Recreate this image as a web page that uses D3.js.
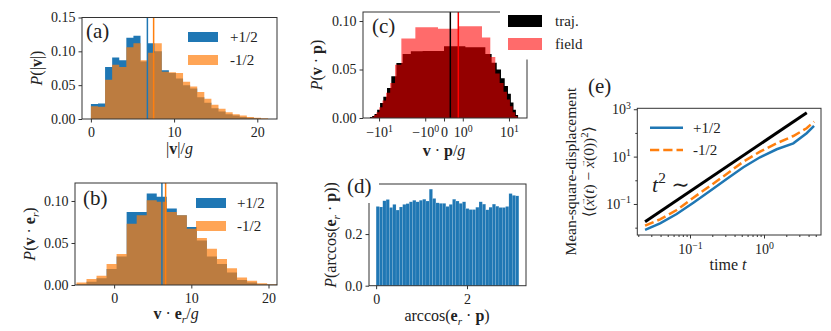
<!DOCTYPE html>
<html><head><meta charset="utf-8">
<script src="https://cdn.jsdelivr.net/npm/d3@7"></script>
<style>body{margin:0;background:#fff}svg text{font-family:"Liberation Serif","DejaVu Serif",serif;fill:#222}</style>
</head><body>
<svg id="c" width="831" height="331"></svg>
<script>
// ---------------- DATA ----------------
// (a) |v|/g histograms (density), 25 bins starting at 0
const aBinStart = 0, aBinWidth = 0.852;
const aPlus  = [0.022,0.023,0.077,0.091,0.087,0.120,0.123,0.085,0.112,0.100,0.072,0.068,0.060,0.050,0.045,0.032,0.024,0.016,0.011,0.007,0.005,0.003,0.002,0.001,0];
const aMinus = [0.019,0.018,0.058,0.080,0.077,0.106,0.112,0.087,0.098,0.112,0.070,0.069,0.068,0.055,0.048,0.040,0.030,0.021,0.015,0.010,0.007,0.005,0.003,0.002,0.001];
const aMeans = [6.79, 7.54];
// (b) v·e_r/g histograms, 20 bins
const bBinStart = -4.88, bBinWidth = 1.30;
const bPlus  = [0.001,0.004,0.008,0.019,0.034,0.087,0.087,0.109,0.105,0.091,0.083,0.069,0.053,0.034,0.025,0.015,0.006,0.003,0.001,0.0005];
const bMinus = [0.003,0.007,0.011,0.025,0.037,0.073,0.083,0.101,0.099,0.087,0.083,0.067,0.056,0.043,0.031,0.020,0.009,0.005,0.002,0.001];
const bMeans = [6.19, 6.67];
// (c) v·p/g histograms (symlog x)
const cTrajStart = -14.4, cTrajWidth = 1.2;
const cTraj = [0.001,0.002,0.004,0.0086,0.0155,0.022,0.031,0.043,0.0567,0.066,0.0687,0.069,0.074,0.073,0.073,0.066,0.057,0.050,0.041,0.033,0.025,0.016,0.0086,0.003];
const cFieldEdges = [-13.5,-12.3,-11.1,-9.9,-8.7,-7.5,-6.3,-5.1,-3.83,-1.88,-0.25,0.72,3.06,4.52,5.64,6.8,8.0,9.2,10.4,11.6,12.8,14.0];
const cField = [0.001,0.003,0.006,0.011,0.018,0.026,0.036,0.055,0.082,0.0935,0.092,0.0945,0.083,0.063,0.046,0.036,0.027,0.019,0.012,0.006,0.002];
const cMeans = [0.262, 0.695];
const cTicks = [-10,-1,0,1,10];
// (d) arccos(e_r·p), 43 bins on [0, pi]
const dBins = 43;
const dVals = [0.307,0.305,0.329,0.334,0.303,0.315,0.293,0.305,0.315,0.318,0.325,0.331,0.325,0.331,0.335,0.328,0.374,0.338,0.321,0.319,0.319,0.307,0.315,0.335,0.328,0.319,0.325,0.299,0.295,0.295,0.304,0.325,0.316,0.294,0.304,0.316,0.308,0.303,0.303,0.307,0.357,0.350,0.348];
// (e) mean-square displacement
const eTime  = [0.0247,0.0394,0.0661,0.111,0.186,0.313,0.526,0.883,1.486,2.489,3.767,4.742];
const ePlus  = [0.00798,0.01524,0.0378,0.113,0.354,1.138,3.54,9.38,20.4,36.3,97,197];
const eMinus = [0.0121,0.0225,0.0557,0.184,0.575,1.849,6.12,16.2,36.7,74.1,157.8,299];
const eRefT  = [0.0247, 3.78];
const eRefY  = [0.0179, 718];
const legendPM = ["+1/2", "-1/2"];
const legendC = ["traj.", "field"];

// ---------------- HELPERS ----------------
const svg = d3.select("#c");
const BLUE = "#1f77b4", ORANGE = "#ff7f0e", AX = "#333";
const TFS = 14;

function rich(el, parts, fs) {
  let cur = 0;
  parts.forEach(p => {
    if (typeof p === "string") p = {t: p};
    let target = p.sup ? -0.4 * fs : p.sub ? 0.25 * fs : 0;
    if (p.raise !== undefined) target = -p.raise;
    const ts = el.append("tspan").text(p.t);
    if (target - cur !== 0) ts.attr("dy", target - cur);
    if (p.dx) ts.attr("dx", p.dx);
    cur = target;
    if (p.i) ts.attr("font-style", "italic");
    if (p.b) ts.attr("font-weight", "bold");
    if (p.sup || p.sub) ts.attr("font-size", fs * 0.7);
    if (p.fs) ts.attr("font-size", p.fs);
  });
}
function label(x, y, parts, fs, opts = {}) {
  const t = svg.append("text").attr("x", x).attr("y", y).attr("font-size", fs)
    .attr("text-anchor", opts.anchor || "middle");
  if (opts.rot) t.attr("transform", `rotate(-90,${x},${y})`);
  rich(t, parts, fs);
  return t;
}
function frame(xs, ys) {
  const [x0, x1] = xs.range(), [y0, y1] = ys.range();
  svg.append("rect").attr("x", x0).attr("y", y1).attr("width", x1 - x0).attr("height", y0 - y1)
    .attr("fill", "none").attr("stroke", AX).attr("stroke-width", 1);
}
function styleAxis(g) {
  g.select(".domain").remove();
  g.selectAll(".tick line").attr("stroke", AX);
  g.selectAll(".tick text").attr("font-size", TFS).attr("fill", "#222")
    .attr("font-family", '"Liberation Serif","DejaVu Serif",serif');
}
function xAxis(xs, ys, vals, fmt, pad = 4.5) {
  const g = svg.append("g").attr("transform", `translate(0,${ys.range()[0]})`)
    .call(d3.axisBottom(xs).tickValues(vals).tickSize(3.5).tickPadding(pad).tickFormat(() => ""));
  styleAxis(g);
  g.selectAll(".tick text").each(function(d) { rich(d3.select(this), fmt(d), TFS); });
  return g;
}
function yAxis(xs, ys, vals, fmt) {
  const g = svg.append("g").attr("transform", `translate(${xs.range()[0]},0)`)
    .call(d3.axisLeft(ys).tickValues(vals).tickSize(3.5).tickPadding(3).tickFormat(() => ""));
  styleAxis(g);
  g.selectAll(".tick text").each(function(d) { rich(d3.select(this), fmt(d), TFS); });
  return g;
}
function stepHist(edges, vals, xs, ys, fill, op) {
  const pts = vals.map((v, i) => [edges[i], v]);
  pts.push([edges[edges.length - 1], vals[vals.length - 1]]);
  const area = d3.area().curve(d3.curveStepAfter)
    .x(d => xs(d[0])).y0(ys(0)).y1(d => ys(d[1]));
  svg.append("path").attr("d", area(pts)).attr("fill", fill).attr("fill-opacity", op);
}
function vline(xs, ys, v, color) {
  svg.append("line").attr("x1", xs(v)).attr("x2", xs(v))
    .attr("y1", ys.range()[0]).attr("y2", ys.range()[1])
    .attr("stroke", color).attr("stroke-width", 1.5);
}
const num = f => d => [d3.format(f)(d)];
const sup10 = d => { const e = Math.round(Math.log10(d)); return ["10", {t: e < 0 ? "−" + (-e) : "" + e, sup: 1}]; };

// ---------------- PANEL (a) ----------------
{
  const xs = d3.scaleLinear([-1.07, 22.37], [82, 277]);
  const ys = d3.scaleLinear([0, 0.15], [119, 17.5]);
  const edges = d3.range(aPlus.length + 1).map(i => aBinStart + i * aBinWidth);
  stepHist(edges, aPlus, xs, ys, BLUE, 1);
  stepHist(edges, aMinus, xs, ys, ORANGE, 0.7);
  vline(xs, ys, aMeans[0], BLUE); vline(xs, ys, aMeans[1], ORANGE);
  frame(xs, ys);
  xAxis(xs, ys, [0, 10, 20], d => [String(d)]);
  yAxis(xs, ys, [0, 0.05, 0.10, 0.15], num(".2f"));
  label(86, 38, ["(a)"], 21, {anchor: "start"});
  svg.append("rect").attr("x", 188).attr("y", 32).attr("width", 30).attr("height", 10).attr("fill", BLUE);
  svg.append("rect").attr("x", 188).attr("y", 55).attr("width", 30).attr("height", 10).attr("fill", ORANGE).attr("fill-opacity", 0.7);
  label(230, 42, [legendPM[0]], 15, {anchor: "start"});
  label(230, 65, [legendPM[1]], 15, {anchor: "start"});
  label(42, 68, [{t: "P", i: 1}, "(|", {t: "v", b: 1}, "|)"], 16, {rot: 1});
  label(179.5, 154, ["|", {t: "v", b: 1}, "|/", {t: "g", i: 1}], 16);
}
// ---------------- PANEL (b) ----------------
{
  const xs = d3.scaleLinear([-5.07, 21.1], [75, 277]);
  const ys = d3.scaleLinear([0, 0.1214], [285, 183]);
  const edges = d3.range(bPlus.length + 1).map(i => bBinStart + i * bBinWidth);
  stepHist(edges, bPlus, xs, ys, BLUE, 1);
  stepHist(edges, bMinus, xs, ys, ORANGE, 0.7);
  vline(xs, ys, bMeans[0], BLUE); vline(xs, ys, bMeans[1], ORANGE);
  frame(xs, ys);
  xAxis(xs, ys, [0, 10, 20], d => [String(d)]);
  yAxis(xs, ys, [0, 0.05, 0.10], num(".2f"));
  label(83, 205, ["(b)"], 21, {anchor: "start"});
  svg.append("rect").attr("x", 196).attr("y", 198).attr("width", 30).attr("height", 10).attr("fill", BLUE);
  svg.append("rect").attr("x", 196).attr("y", 221).attr("width", 30).attr("height", 10).attr("fill", ORANGE).attr("fill-opacity", 0.7);
  label(237, 208, [legendPM[0]], 15, {anchor: "start"});
  label(237, 231, [legendPM[1]], 15, {anchor: "start"});
  label(35, 234, [{t: "P", i: 1}, "(", {t: "v", b: 1}, " · ", {t: "e", b: 1}, {t: "r", sub: 1, i: 1}, ")"], 16, {rot: 1});
  label(176, 319, [{t: "v", b: 1}, " · ", {t: "e", b: 1}, {t: "r", sub: 1, i: 1}, "/", {t: "g", i: 1}], 16);
}
// ---------------- PANEL (c) ----------------
{
  const xs = d3.scaleSymlog().constant(1).domain([-18.9, 20.4]).range([363, 527]);
  const ys = d3.scaleLinear([0, 0.1093], [118, 12]);
  const edges = d3.range(cTraj.length + 1).map(i => cTrajStart + i * cTrajWidth);
  stepHist(edges, cTraj, xs, ys, "#000", 1);
  stepHist(cFieldEdges, cField, xs, ys, "#ff0000", 0.58);
  vline(xs, ys, cMeans[0], "#000"); vline(xs, ys, cMeans[1], "#ff0000");
  frame(xs, ys);
  xAxis(xs, ys, cTicks, d => d === 0 ? ["0"] :
    [(d < 0 ? "−" : "") + "10", {t: String(Math.round(Math.log10(Math.abs(d)))), sup: 1}], 6);
  yAxis(xs, ys, [0, 0.05, 0.10], num(".2f"));
  svg.append("rect").attr("x", 500).attr("y", 0).attr("width", 110).attr("height", 59.5).attr("fill", "#fff");
  label(372, 33, ["(c)"], 21, {anchor: "start"});
  svg.append("rect").attr("x", 508).attr("y", 15).attr("width", 34).attr("height", 12).attr("fill", "#000");
  svg.append("rect").attr("x", 508).attr("y", 38).attr("width", 34).attr("height", 12).attr("fill", "#ff0000").attr("fill-opacity", 0.58);
  label(555, 26, [legendC[0]], 15, {anchor: "start"});
  label(555, 49, [legendC[1]], 15, {anchor: "start"});
  label(322, 65, [{t: "P", i: 1}, "(", {t: "v", b: 1}, " · ", {t: "p", b: 1}, ")"], 16, {rot: 1});
  label(444, 156, [{t: "v", b: 1}, " · ", {t: "p", b: 1}, "/", {t: "g", i: 1}], 16);
}
// ---------------- PANEL (d) ----------------
{
  const xs = d3.scaleLinear([-0.157, 3.299], [369, 526]);
  const ys = d3.scaleLinear([0, 0.394], [285.7, 184]);
  const w = Math.PI / dBins;
  svg.append("g").selectAll("rect").data(dVals).join("rect")
    .attr("x", (d, i) => xs(i * w)).attr("width", (d, i) => xs((i + 1) * w) - xs(i * w))
    .attr("y", d => ys(d)).attr("height", d => ys(0) - ys(d))
    .attr("fill", BLUE).attr("stroke", "rgba(255,255,255,0.25)").attr("stroke-width", 0.4);
  frame(xs, ys);
  xAxis(xs, ys, [0, 2], d => [String(d)]);
  yAxis(xs, ys, [0, 0.2], num(".1f"));
  svg.append("rect").attr("x", 340).attr("y", 168).attr("width", 39).attr("height", 35).attr("fill", "#fff");
  label(347, 193, ["(d)"], 21, {anchor: "start"});
  label(336, 235, [{t: "P", i: 1}, "(arccos(", {t: "e", b: 1}, {t: "r", sub: 1, i: 1}, " · ", {t: "p", b: 1}, "))"], 16, {rot: 1});
  label(447, 321, ["arccos(", {t: "e", b: 1}, {t: "r", sub: 1, i: 1}, " · ", {t: "p", b: 1}, ")"], 16);
}
// ---------------- PANEL (e) ----------------
{
  const xs = d3.scaleLog([0.0194, 5.89], [637.3, 821]);
  const ys = d3.scaleLog([Math.pow(10, -2.31), Math.pow(10, 3.04)], [235, 108.3]);
  const line = d3.line().x(d => xs(d[0])).y(d => ys(d[1]));
  svg.append("path").attr("d", line(eRefT.map((t, i) => [t, eRefY[i]])))
    .attr("fill", "none").attr("stroke", "#000").attr("stroke-width", 3);
  svg.append("path").attr("d", line(eTime.map((t, i) => [t, ePlus[i]])))
    .attr("fill", "none").attr("stroke", BLUE).attr("stroke-width", 2.5);
  svg.append("path").attr("d", line(eTime.map((t, i) => [t, eMinus[i]])))
    .attr("fill", "none").attr("stroke", ORANGE).attr("stroke-width", 2.5).attr("stroke-dasharray", "9.25,4");
  frame(xs, ys);
  // minor ticks
  const xMinor = [];
  [-2, -1, 0].forEach(k => d3.range(2, 10).forEach(m => { const v = m * Math.pow(10, k); if (v > 0.0194 && v < 5.89) xMinor.push(v); }));
  const gm = svg.append("g").attr("transform", `translate(0,235)`)
    .call(d3.axisBottom(xs).tickValues(xMinor).tickSize(2).tickFormat(() => ""));
  styleAxis(gm);
  const gym = svg.append("g").attr("transform", `translate(637.3,0)`)
    .call(d3.axisLeft(ys).tickValues([0.01, 1, 100]).tickSize(2).tickFormat(() => ""));
  styleAxis(gym);
  xAxis(xs, ys, [0.1, 1], sup10, 6);
  yAxis(xs, ys, [0.1, 10, 1000], sup10);
  label(588, 93, ["(e)"], 21, {anchor: "start"});
  svg.append("line").attr("x1", 650).attr("x2", 683).attr("y1", 127.7).attr("y2", 127.7).attr("stroke", BLUE).attr("stroke-width", 2.5);
  svg.append("line").attr("x1", 650).attr("x2", 683).attr("y1", 150).attr("y2", 150).attr("stroke", ORANGE).attr("stroke-width", 2.5).attr("stroke-dasharray", "9.25,4");
  label(693, 133, [legendPM[0]], 15, {anchor: "start"});
  label(693, 155, [legendPM[1]], 15, {anchor: "start"});
  label(652, 192, [{t: "t", i: 1}, {t: "2", sup: 1}, " ∼"], 22, {anchor: "start"});
  label(576, 171.7, ["Mean-square-displacement"], 15.5, {rot: 1});
  const arrow = (dx) => ({t: "→", fs: 8, raise: 9, dx: dx});
  label(594, 171.7, ["⟨(", {t: "x", i: 1}, arrow(-6.5), {t: "(", raise: 0, dx: -1.5}, {t: "t", i: 1}, ") − ",
    {t: "x", i: 1}, arrow(-6.5), {t: "(0))", raise: 0, dx: -1.5}, {t: "2", sup: 1}, "⟩"], 15.5, {rot: 1});
  label(728, 270, ["time ", {t: "t", i: 1}], 16);
}
</script>
</body></html>
